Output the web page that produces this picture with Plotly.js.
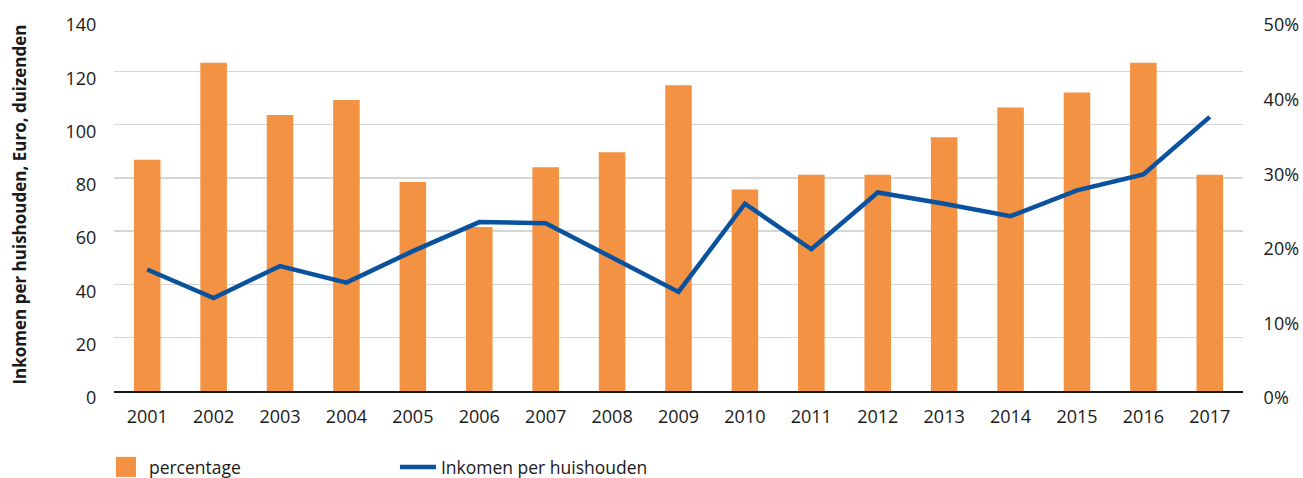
<!DOCTYPE html>
<html>
<head>
<meta charset="utf-8">
<script src="https://cdn.plot.ly/plotly-3.0.1.min.js"></script>
<style>
  html, body { margin: 0; padding: 0; background: #fff; }
  #chart { width: 1303px; height: 478px; }
</style>
</head>
<body>
<div id="chart"></div>
<script>
const years = ['2001','2002','2003','2004','2005','2006','2007','2008','2009','2010','2011','2012','2013','2014','2015','2016','2017'];
const percentage = [31, 44, 37, 39, 28, 22, 30, 32, 41, 27, 29, 29, 34, 38, 40, 44, 29];
const inkomen = [45.6, 34.9, 46.9, 40.7, 52.5, 63.4, 63.0, 50.0, 37.2, 70.3, 53.2, 74.5, 70.3, 65.6, 75.3, 81.3, 102.9];
const leftTicks = [0, 20, 40, 60, 80, 100, 120, 140];
const rightTicks = [0, 10, 20, 30, 40, 50];

const FONT = '"Open Sans", "Noto Sans", sans-serif';
const TXT = '#1a1a1a';

const traces = [
  {
    type: 'bar', name: 'percentage', x: years, y: percentage, yaxis: 'y',
    marker: { color: '#F39243' }
  },
  {
    type: 'scatter', mode: 'lines', name: 'Inkomen per huishouden', x: years, y: inkomen,
    yaxis: 'y2', line: { color: '#0A529E', width: 4.5 }
  }
];

const layout = {
  width: 1303, height: 478,
  margin: { l: 114, r: 60, t: 18, b: 87 },
  paper_bgcolor: '#fff', plot_bgcolor: '#fff',
  font: { family: FONT, size: 18, color: TXT },
  bargap: 0.6,
  showlegend: true,
  legend: {
    orientation: 'h', xref: 'container', yref: 'container',
    x: 0.079, xanchor: 'left', y: 0.023, yanchor: 'middle',
    font: { family: FONT, size: 17.5, color: TXT },
    itemwidth: 36,
    entrywidth: 241, entrywidthmode: 'pixels', traceorder: 'normal'
  },
  xaxis: {
    type: 'category', showgrid: false, showline: true, linecolor: '#1a1a1a', linewidth: 2,
    ticks: 'outside', ticklen: 8, tickcolor: 'rgba(0,0,0,0)',
    tickfont: { family: FONT, size: 18, color: TXT }, fixedrange: true
  },
  yaxis: {
    range: [0, 50], side: 'right', tickvals: rightTicks,
    ticktext: rightTicks.map(v => v + '%'), showgrid: false, zeroline: false,
    ticks: 'outside', ticklen: 16, tickcolor: 'rgba(0,0,0,0)', ticklabelshift: 7,
    tickfont: { family: FONT, size: 18, color: TXT }
  },
  yaxis2: {
    range: [0, 140], overlaying: 'y', side: 'left', tickvals: leftTicks, ticktext: leftTicks.map(String),
    showgrid: true, gridcolor: '#d6d6d6', gridwidth: 1.5, zeroline: false,
    ticks: 'outside', ticklen: 13, tickcolor: 'rgba(0,0,0,0)', ticklabelshift: 7,
    tickfont: { family: FONT, size: 18, color: TXT },
    title: { text: 'Inkomen per huishouden, Euro, duizenden', standoff: 34,
             font: { family: FONT, size: 17, color: TXT, weight: 'bold' } }
  }
};

Plotly.newPlot('chart', traces, layout, { displayModeBar: false, staticPlot: true }).then(function (gd) {
  const pts = gd.querySelectorAll('.legend .legendpoints path');
  pts.forEach(function (p) {
    const d = p.getAttribute('d') || '';
    if (d.indexOf('M6,6H-6V-6H6Z') === 0) {
      p.setAttribute('d', 'M10,10H-10V-10H10Z');
    } else if (d.indexOf('M5,0h30') === 0) {
      p.setAttribute('d', 'M11,0h21');
    }
  });
});
</script>
</body>
</html>
